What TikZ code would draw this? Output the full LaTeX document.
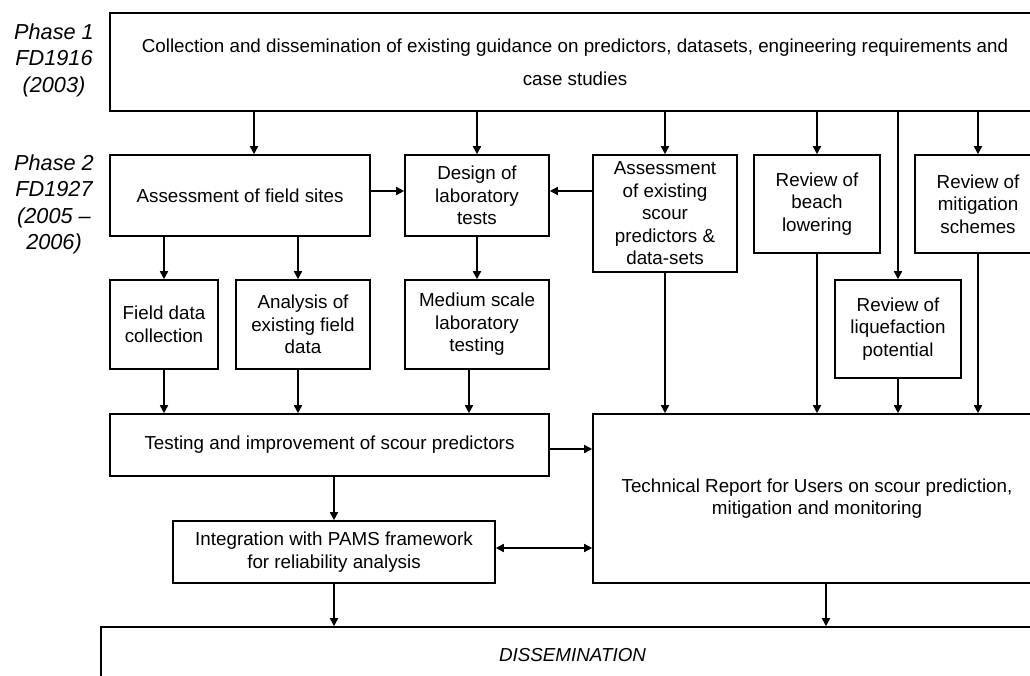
\documentclass[tikz,border=0pt]{standalone}
\usepackage{fontspec}
\setmainfont{Liberation Sans}
\usetikzlibrary{arrows.meta,calc}
\begin{document}
\begin{tikzpicture}[x=1pt,y=-1pt,
  box/.style={draw, line width=1.6pt, inner sep=0pt, align=center, font=\fontsize{18.8}{22.5}\selectfont},
  arr/.style={line width=1.6pt, -{Triangle[length=8pt,width=8pt]}},
  dbl/.style={line width=1.6pt, {Triangle[length=8pt,width=8pt]}-{Triangle[length=8pt,width=8pt]}},
  phase/.style={align=center, inner sep=0pt, font=\fontsize{21.7}{26.5}\selectfont\itshape}
]
\fill[white] (0,0) rectangle (1030,675);
\useasboundingbox (0,0) rectangle (1030,675);
\clip (0,0) rectangle (1030,675);

% phase labels
\node[phase] (p1) at (54,60) {Phase 1\\FD1916\\(2003)};
\node[phase] (p2) at (54,204.5) {Phase 2\\FD1927\\(2005 --\\2006)};

% boxes
\node[box, minimum width=930pt, minimum height=98pt, font=\fontsize{18.8}{33}\selectfont] (top) at (575,62)
  {Collection and dissemination of existing guidance on predictors, datasets, engineering requirements and\\case studies};
\node[box, minimum width=260pt, minimum height=81pt] (afs) at (240,195.5) {Assessment of field sites};
\node[box, minimum width=144pt, minimum height=81pt] (design) at (477,195.5) {Design of\\laboratory\\tests};
\node[box, minimum width=144pt, minimum height=117pt] (aesp) at (665,213.5) {Assessment\\of existing\\scour\\predictors \&\\data-sets};
\node[box, minimum width=126pt, minimum height=98pt] (beach) at (817,204) {Review of\\beach\\lowering};
\node[box, minimum width=126pt, minimum height=98pt] (mitig) at (978,204) {Review of\\mitigation\\schemes};
\node[box, minimum width=126pt, minimum height=98pt] (liq) at (898,329) {Review of\\liquefaction\\potential};
\node[box, minimum width=108pt, minimum height=89pt] (fdc) at (164,324.5) {Field data\\collection};
\node[box, minimum width=134pt, minimum height=89pt] (aefd) at (303,324.5) {Analysis of\\existing field\\data};
\node[box, minimum width=144pt, minimum height=89pt] (msl) at (477,324.5) {Medium scale\\laboratory\\testing};
\node[box, minimum width=439pt, minimum height=62pt] (tis) at (329.5,445) {Testing and improvement of scour predictors};
\node[box, minimum width=448pt, minimum height=169pt] (tech) at (817,498.5) {Technical Report for Users on scour prediction,\\mitigation and monitoring};
\node[box, minimum width=322pt, minimum height=62pt] (integ) at (334,552) {Integration with PAMS framework\\for reliability analysis};
\node[box, minimum width=943pt, minimum height=56pt] (diss) at (572.5,655) {\itshape DISSEMINATION};

% helper coordinates
\coordinate (x254) at (254,0);
\coordinate (x298) at (298,0);
\coordinate (x469) at (469,0);
\coordinate (x826) at (826,0);
\coordinate (y191) at (0,191);
\coordinate (y449) at (0,449);
\coordinate (y548) at (0,548);

% arrows from top
\draw[arr] (top.south -| x254) -- (afs.north -| x254);
\draw[arr] (top.south -| design.north) -- (design.north);
\draw[arr] (top.south -| aesp.north) -- (aesp.north);
\draw[arr] (top.south -| beach.north) -- (beach.north);
\draw[arr] (top.south -| liq.north) -- (liq.north);
\draw[arr] (top.south -| mitig.north) -- (mitig.north);

% phase 2 row
\draw[arr] (afs.east |- y191) -- (design.west |- y191);
\draw[arr] (aesp.west |- y191) -- (design.east |- y191);
\draw[arr] (afs.south -| fdc.north) -- (fdc.north);
\draw[arr] (afs.south -| x298) -- (aefd.north -| x298);
\draw[arr] (design.south) -- (msl.north);

\draw[arr] (fdc.south) -- (tis.north -| fdc.south);
\draw[arr] (aefd.south -| x298) -- (tis.north -| x298);
\draw[arr] (msl.south -| x469) -- (tis.north -| x469);

\draw[arr] (aesp.south) -- (tech.north -| aesp.south);
\draw[arr] (beach.south) -- (tech.north -| beach.south);
\draw[arr] (liq.south) -- (tech.north -| liq.south);
\draw[arr] (mitig.south) -- (tech.north -| mitig.south);

\draw[arr] (tis.east |- y449) -- (tech.west |- y449);
\draw[arr] (tis.south -| integ.north) -- (integ.north);
\draw[dbl] (integ.east |- y548) -- (tech.west |- y548);
\draw[arr] (integ.south) -- (diss.north -| integ.south);
\draw[arr] (tech.south -| x826) -- (diss.north -| x826);
\end{tikzpicture}
\end{document}
